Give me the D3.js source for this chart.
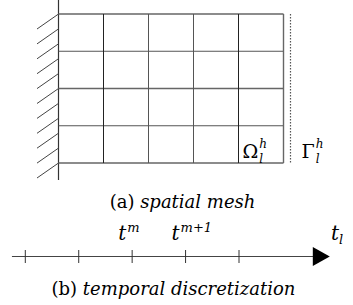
<!DOCTYPE html>
<html>
<head>
<meta charset="utf-8">
<script src="https://cdn.jsdelivr.net/npm/d3@7"></script>
<style>
  body { margin: 0; background: #fff; }
  svg { display: block; }
  text { font-family: "DejaVu Serif", serif; fill: #000; }
</style>
</head>
<body>
<svg id="fig" width="353" height="305"></svg>
<script>
// mesh: 5 columns x 4 rows of cells
const meshCols = [0, 1, 2, 3, 4, 5];
const meshRows = [0, 1, 2, 3, 4];
// grid line shades (index = line number)
const colShade = ["#444", "#222", "#555", "#555", "#222", "#666"];
const rowShade = ["#666", "#555", "#666", "#555", "#666"];
const hatchCount = 11;

// time axis
const timeTicks = [0, 1, 2, 3, 4];
const timeLabels = [{ i: 2, sup: "m" }, { i: 3, sup: "m+1" }];

const svg = d3.select("#fig");

const x = d3.scaleLinear().domain([0, 5]).range([58.5, 283.5]);
const y = d3.scaleLinear().domain([0, 4]).range([14, 163]);

/////
// spatial mesh
/////

// wall line and hatching
svg.append("line")
  .attr("x1", x(0)).attr("x2", x(0))
  .attr("y1", 0).attr("y2", 180)
  .attr("stroke", "#333").attr("stroke-width", 1.2);

const hatchStep = (y(4) - y(0)) / (hatchCount - 1);
svg.append("g")
  .selectAll("line")
  .data(d3.range(hatchCount))
  .join("line")
  .attr("x1", x(0) - 21.5)
  .attr("y1", d => y(0) + d * hatchStep + 15)
  .attr("x2", x(0))
  .attr("y2", d => y(0) + d * hatchStep)
  .attr("stroke", "#444").attr("stroke-width", 1);

// cells
svg.append("g")
  .selectAll("line")
  .data(meshRows)
  .join("line")
  .attr("x1", x(0)).attr("x2", x(5))
  .attr("y1", d => y(d)).attr("y2", d => y(d))
  .attr("stroke", (d, i) => rowShade[i])
  .attr("stroke-width", d => (d % 2 === 0 ? 1.6 : 1));

svg.append("g")
  .selectAll("line")
  .data(meshCols.slice(1))
  .join("line")
  .attr("x1", d => x(d)).attr("x2", d => x(d))
  .attr("y1", y(0)).attr("y2", y(4))
  .attr("stroke", d => colShade[d])
  .attr("stroke-width", d => (d === 5 ? 1.4 : 1));

// boundary (dotted)
svg.append("line")
  .attr("x1", x(5) + 7).attr("x2", x(5) + 7)
  .attr("y1", y(0)).attr("y2", y(4))
  .attr("stroke", "#555").attr("stroke-width", 1.2)
  .attr("stroke-dasharray", "1.5,1.5");

// Omega / Gamma labels: symbol, superscript h, subscript l as separate texts
function symLabel(sym, x0, y0) {
  const main = svg.append("text")
    .attr("x", x0).attr("y", y0)
    .attr("font-size", 19)
    .text(sym);
  const w = main.node().getComputedTextLength();
  svg.append("text")
    .attr("x", x0 + w + 1).attr("y", y0 - 10)
    .attr("font-size", 12).attr("font-style", "italic")
    .text("h");
  svg.append("text")
    .attr("x", x0 + w + 1).attr("y", y0 + 5)
    .attr("font-size", 12).attr("font-style", "italic")
    .text("l");
}
symLabel("Ω", x(4) + 4, y(4) - 5);
symLabel("Γ", x(5) + 18, y(4) - 5);

// caption (a)
const capA = svg.append("text")
  .attr("x", 182.5).attr("y", 208)
  .attr("text-anchor", "middle").attr("font-size", 18);
capA.append("tspan").text("(a) ");
capA.append("tspan").attr("font-style", "italic").text("spatial mesh");

/////
// temporal discretization
/////

const t = d3.scaleLinear().domain([0, 4]).range([25.3, 239]);
const axisY = 256.5;

svg.append("line")
  .attr("x1", t(-0.25)).attr("x2", t(5.4))
  .attr("y1", axisY).attr("y2", axisY)
  .attr("stroke", "#444").attr("stroke-width", 1.2);

svg.append("path")
  .attr("d", `M${t(5.4) - 1},${axisY - 9.5} L${t(5.4) + 16},${axisY} L${t(5.4) - 1},${axisY + 9.5} Z`)
  .attr("fill", "#000");

svg.append("g")
  .selectAll("line")
  .data(timeTicks)
  .join("line")
  .attr("x1", d => t(d)).attr("x2", d => t(d))
  .attr("y1", axisY - 6.5).attr("y2", axisY + 6.5)
  .attr("stroke", "#333").attr("stroke-width", 1);

const tl = svg.append("g")
  .selectAll("text")
  .data(timeLabels)
  .join("text")
  .attr("x", d => t(d.i) - 14)
  .attr("y", 240)
  .attr("font-size", 20)
  .attr("font-style", "italic");
tl.append("tspan").text("t");
tl.append("tspan").attr("font-size", 13).attr("dx", 1).attr("dy", -8).text(d => d.sup);

const tlab = svg.append("text")
  .attr("x", 331).attr("y", 240)
  .attr("font-size", 20).attr("font-style", "italic");
tlab.append("tspan").text("t");
tlab.append("tspan").attr("font-size", 13).attr("dy", 4).text("l");

// caption (b)
const capB = svg.append("text")
  .attr("x", 173.5).attr("y", 295)
  .attr("text-anchor", "middle").attr("font-size", 18);
capB.append("tspan").text("(b) ");
capB.append("tspan").attr("font-style", "italic").text("temporal discretization");
</script>
</body>
</html>
